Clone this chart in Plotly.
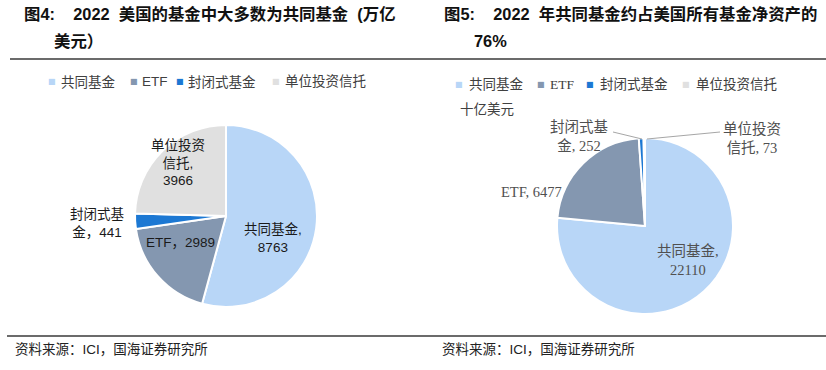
import plotly.graph_objects as go

# ---------------- data ----------------
categories = ["共同基金", "ETF", "封闭式基金", "单位投资信托"]
left_values = [8763, 2989, 441, 3966]          # 万亿美元 (as labelled)
right_values = [22110, 6477, 252, 73]          # 十亿美元
slice_colors = ["#B8D6F7", "#8497B0", "#1C78D3", "#E0E0E0"]

NB = "\u00a0"
left_title = ["图4:" + NB * 4 + "2022" + NB * 2 + "美国的基金中大多数为共同基金" + NB * 2 + "(万亿", "美元）"]
right_title = ["图5:" + NB * 4 + "2022" + NB * 2 + "年共同基金约占美国所有基金净资产的", "76%"]
source_text = "资料来源：ICI，国海证券研究所"
right_unit = "十亿美元"

# label templates (line breaks as in the picture)
left_label_tpl = ["共同基金,<br>{v}", "ETF，{v}", "封闭式基<br>金，{v}", "单位投资<br>信托,<br>{v}"]
right_label_tpl = ["共同基金,<br>{v}", "ETF, {v}", "封闭式基<br>金, {v}", "单位投资<br>信托, {v}"]

# ---------------- layout helpers ----------------
W, H = 826, 370
def px(x):
    return x / W
def py(y):
    return 1 - y / H

SANS = "Liberation Sans, Arial, Noto Sans CJK SC, sans-serif"
SERIF = "Liberation Serif, Times New Roman, Noto Sans CJK SC, serif"

fig = go.Figure()

# left pie: centre (226,216), r 91
lc, lr = (226, 216), 91
fig.add_trace(go.Pie(
    labels=categories, values=left_values, sort=False, direction="clockwise", rotation=0,
    marker=dict(colors=slice_colors, line=dict(color="white", width=2)),
    textinfo="none", hoverinfo="label+value", showlegend=False,
    domain=dict(x=[px(lc[0] - lr), px(lc[0] + lr)], y=[py(lc[1] + lr), py(lc[1] - lr)]),
))

# right pie: centre (645,226), r 88
rc, rr = (645, 226), 88
fig.add_trace(go.Pie(
    labels=categories, values=right_values, sort=False, direction="clockwise", rotation=0,
    marker=dict(colors=slice_colors, line=dict(color="white", width=2)),
    textinfo="none", hoverinfo="label+value", showlegend=False,
    domain=dict(x=[px(rc[0] - rr), px(rc[0] + rr)], y=[py(rc[1] + rr), py(rc[1] - rr)]),
))

ann = []
shapes = []

# titles
for (x0, x1, lines) in [(22, 52, left_title), (442, 472, right_title)]:
    ann.append(dict(text="<b>" + lines[0] + "</b>", x=px(x0), y=py(14), xanchor="left", yanchor="middle",
                    font=dict(size=16.4, color="#111111", family=SANS)))
    ann.append(dict(text="<b>" + lines[1] + "</b>", x=px(x1), y=py(41), xanchor="left", yanchor="middle",
                    font=dict(size=16.4, color="#111111", family=SANS)))

# separator lines
shapes.append(dict(type="line", xref="paper", yref="paper", x0=px(10), x1=px(826), y0=py(59), y1=py(59),
                   line=dict(color="#3a3a3a", width=1.5)))
shapes.append(dict(type="line", xref="paper", yref="paper", x0=px(7), x1=px(826), y0=py(336), y1=py(336),
                   line=dict(color="#3a3a3a", width=1.5)))

# source texts
for x0 in (13, 440):
    ann.append(dict(text=source_text, x=px(x0), y=py(349), xanchor="left", yanchor="middle",
                    font=dict(size=13.5, color="#222222", family=SANS)))

# legends (drawn as text items)
left_leg_marker_x = [52, 134, 180, 276]
left_leg_text_x = [59, 140, 186, 283]
right_leg_marker_x = [459, 541, 590, 686]
right_leg_text_x = [467, 548, 598, 694]
for mx, tx, ly, fam in [(left_leg_marker_x, left_leg_text_x, 82, SANS),
                        (right_leg_marker_x, right_leg_text_x, 84, SERIF)]:
    for i, cat in enumerate(categories):
        ann.append(dict(text="■", x=px(mx[i]), y=py(ly), xanchor="center", yanchor="middle",
                        font=dict(size=8, color=slice_colors[i], family="DejaVu Sans")))
        ann.append(dict(text=cat, x=px(tx[i]), y=py(ly), xanchor="left", yanchor="middle",
                        font=dict(size=13.5, color="#404040", family=fam)))

ann.append(dict(text=right_unit, x=px(458), y=py(109), xanchor="left", yanchor="middle",
                font=dict(size=13.5, color="#404040", family=SERIF)))

# pie labels
left_label_pos = [(273, 238), (180, 242), (97, 223), (178, 163)]
for tpl, v, (x, y) in zip(left_label_tpl, left_values, left_label_pos):
    ann.append(dict(text=tpl.format(v=v), x=px(x), y=py(y), xanchor="center", yanchor="middle",
                    font=dict(size=13.5, color="#1a1a1a", family=SANS)))

right_label_pos = [(688, 260), (531, 192), (579, 136), (752, 138)]
for tpl, v, (x, y) in zip(right_label_tpl, right_values, right_label_pos):
    ann.append(dict(text=tpl.format(v=v), x=px(x), y=py(y), xanchor="center", yanchor="middle",
                    font=dict(size=14.5, color="#505050", family=SERIF)))

# leader lines for the small slices on the right pie
for (x0, y0, x1, y1) in [(613, 132, 642, 139), (647, 139, 720, 132)]:
    shapes.append(dict(type="line", xref="paper", yref="paper", x0=px(x0), y0=py(y0), x1=px(x1), y1=py(y1),
                       line=dict(color="#A6A6A6", width=1)))

for a in ann:
    a.update(xref="paper", yref="paper", showarrow=False)

fig.update_layout(
    width=W, height=H, margin=dict(l=0, r=0, t=0, b=0),
    paper_bgcolor="white", plot_bgcolor="white",
    annotations=ann, shapes=shapes, showlegend=False,
)

fig.write_html("out.html", config={"displayModeBar": False},
               post_script="document.body.style.margin='0px';document.body.style.overflow='hidden';")
